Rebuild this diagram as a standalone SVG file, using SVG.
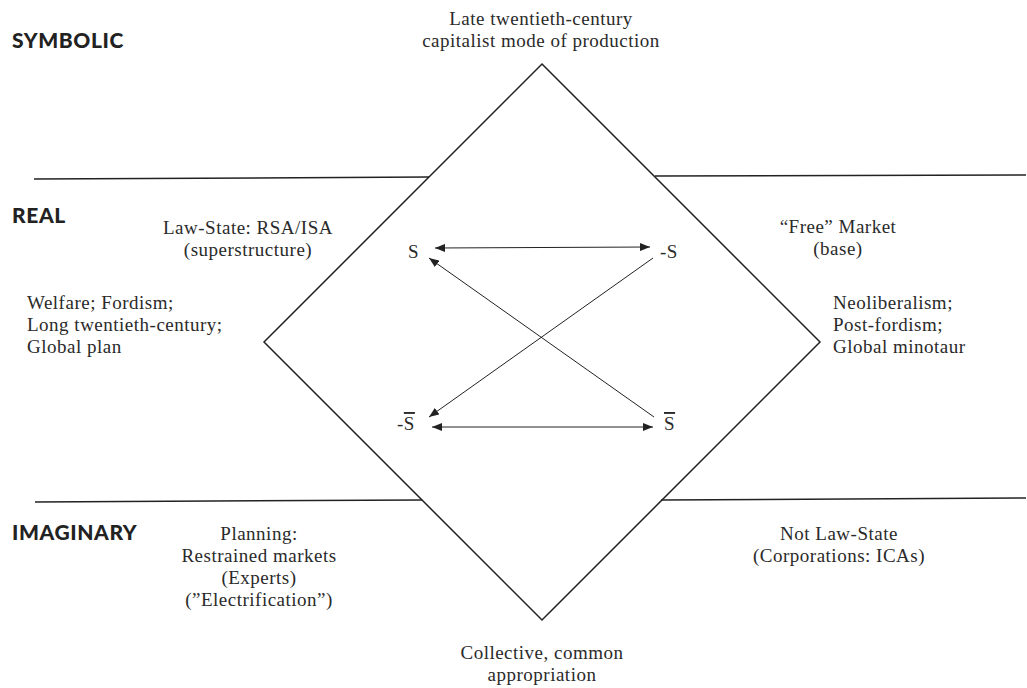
<svg xmlns="http://www.w3.org/2000/svg" width="1027" height="688" viewBox="0 0 1027 688">
<defs>
<marker id="ah" viewBox="0 0 10 8" refX="10" refY="4" markerWidth="10" markerHeight="8" markerUnits="userSpaceOnUse" orient="auto-start-reverse">
<path d="M0,0 L10,4 L0,8 Z" fill="#222"/>
</marker>
</defs>
<style>
.t{font-family:"Liberation Serif","Times New Roman",serif;font-size:19px;letter-spacing:0.5px;fill:#2a2a2a}
.m{text-anchor:middle}
.ov{text-decoration:overline}
.h{font-family:"Lato","Open Sans",sans-serif;font-weight:900;font-size:21px;letter-spacing:0.6px;fill:#222}
.ln{stroke:#222;stroke-width:1.5;fill:none}
.ar{stroke:#222;stroke-width:1;fill:none;marker-end:url(#ah);marker-start:url(#ah)}
.ar1{stroke:#222;stroke-width:1;fill:none;marker-end:url(#ah)}
</style>
<rect width="1027" height="688" fill="#fff"/>
<g id="levels">
<line class="ln" x1="34" y1="179" x2="429" y2="177"/>
<line class="ln" x1="655" y1="176" x2="1026" y2="175"/>
<line class="ln" x1="35" y1="502" x2="422" y2="500"/>
<line class="ln" x1="661" y1="500" x2="1026" y2="498"/>
<text class="h" x="12" y="48">SYMBOLIC</text>
<text class="h" x="12" y="223">REAL</text>
<text class="h" x="12" y="540">IMAGINARY</text>
</g>
<g id="diamond">
<polygon class="ln" points="542,64 820,342 542,620 264,342"/>
</g>
<g id="top-label">
<text class="t m" x="541" y="25">Late twentieth-century</text>
<text class="t m" x="541" y="47">capitalist mode of production</text>
</g>
<g id="bottom-label">
<text class="t m" x="542" y="659">Collective, common</text>
<text class="t m" x="542" y="681">appropriation</text>
</g>
<g id="law-state">
<text class="t m" x="248" y="234">Law-State: RSA/ISA</text>
<text class="t m" x="248" y="256">(superstructure)</text>
</g>
<g id="welfare">
<text class="t" x="27" y="309">Welfare; Fordism;</text>
<text class="t" x="27" y="331">Long twentieth-century;</text>
<text class="t" x="27" y="353">Global plan</text>
</g>
<g id="free-market">
<text class="t m" x="838" y="233">“Free” Market</text>
<text class="t m" x="838" y="255">(base)</text>
</g>
<g id="neoliberalism">
<text class="t" x="833" y="309">Neoliberalism;</text>
<text class="t" x="833" y="331">Post-fordism;</text>
<text class="t" x="833" y="353">Global minotaur</text>
</g>
<g id="planning">
<text class="t m" x="259" y="540">Planning:</text>
<text class="t m" x="259" y="562">Restrained markets</text>
<text class="t m" x="259" y="584">(Experts)</text>
<text class="t m" x="259" y="606">(”Electrification”)</text>
</g>
<g id="not-law-state">
<text class="t m" x="839" y="540">Not Law-State</text>
<text class="t m" x="839" y="562">(Corporations: ICAs)</text>
</g>
<g id="node-S"><text class="t" x="408" y="258">S</text></g>
<g id="node-negS"><text class="t" x="660" y="258">-S</text></g>
<g id="node-negSbar"><text class="t" x="397" y="430">-<tspan class="ov">S</tspan></text></g>
<g id="node-Sbar"><text class="t" x="664" y="430"><tspan class="ov">S</tspan></text></g>
<g id="connectors">
<line class="ar" x1="435" y1="248" x2="650" y2="247"/>
<line class="ar" x1="432" y1="427" x2="653" y2="427"/>
<line class="ar1" x1="654" y1="417" x2="429" y2="258"/>
<line class="ar1" x1="653" y1="258" x2="429" y2="417"/>
</g>
</svg>
